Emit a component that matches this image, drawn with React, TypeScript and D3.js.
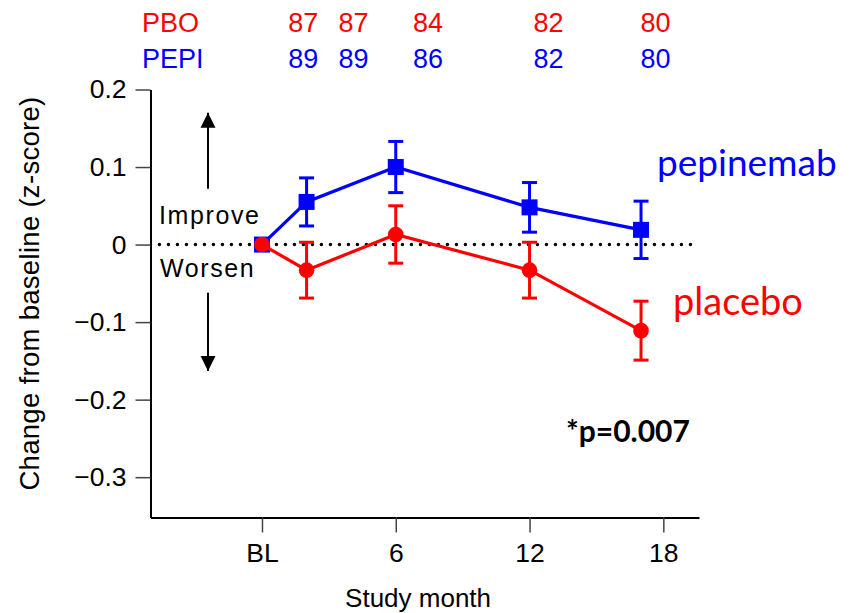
import React, { useEffect, useRef } from "react";
import * as d3 from "d3";

// study visits (months) and change from baseline (z-score), mean +/- SE
const months = [0, 2, 6, 12, 17];
const pepiMean = [0, 0.055, 0.1, 0.048, 0.019];
const pepiErr = [0, 0.031, 0.033, 0.032, 0.037];
const pboMean = [0, -0.033, 0.013, -0.033, -0.111];
const pboErr = [0, 0.036, 0.037, 0.036, 0.038];

// n per arm shown above the plot
const pboCounts = [87, 87, 84, 82, 80];
const pepiCounts = [89, 89, 86, 82, 80];

const xTickValues = [0, 6, 12, 18];
const xTickLabels = ["BL", "6", "12", "18"];
const yTickValues = [0.2, 0.1, 0, -0.1, -0.2, -0.3];

const W = 856;
const H = 613;
const RED = "#ff0000";
const BLUE = "#0000ff";
const HELV = "'Liberation Sans', Arial, Helvetica, sans-serif";
const CAL = "Lato, 'Open Sans', sans-serif";

// where the n labels sit along the month axis
const countAt = [1.85, 4.1, 7.45, 12.85, 17.65];

const App = () => {
  const ref = useRef(null);

  useEffect(() => {
    const svg = d3.select(ref.current);
    svg.selectAll("*").remove();

    const x = d3.scaleLinear().domain([-5, 19.6]).range([150.5, 699]);
    const y = d3.scaleLinear().domain([-0.352, 0.2]).range([517.5, 89.5]);

    const fmt = (d) => (d === 0 ? "0" : d3.format(".1f")(d).replace("-", "\u2212"));

    // y axis
    const gy = svg
      .append("g")
      .attr("transform", `translate(${x(-5)},0)`)
      .call(
        d3
          .axisLeft(y)
          .tickValues(yTickValues)
          .tickSize(15)
          .tickSizeOuter(0)
          .tickPadding(9)
          .tickFormat(fmt)
      );
    gy.select(".domain").attr("stroke", "#000").attr("stroke-width", 2);
    gy.selectAll(".tick line").attr("stroke", "#444").attr("stroke-width", 1.5);
    gy.selectAll(".tick text")
      .attr("font-family", HELV)
      .attr("font-size", 26.5)
      .attr("fill", "#000");

    // x axis
    const gx = svg
      .append("g")
      .attr("transform", `translate(0,${y(-0.352)})`)
      .call(
        d3
          .axisBottom(x)
          .tickValues(xTickValues)
          .tickSize(15)
          .tickSizeOuter(0)
          .tickPadding(11)
          .tickFormat((d, i) => xTickLabels[i])
      );
    gx.select(".domain").attr("stroke", "#000").attr("stroke-width", 2);
    gx.selectAll(".tick line").attr("stroke", "#444").attr("stroke-width", 1.5);
    gx.selectAll(".tick text")
      .attr("font-family", HELV)
      .attr("font-size", 26.5)
      .attr("fill", "#000");

    // axis titles
    svg
      .append("text")
      .attr("transform", `translate(39,${(y(0.2) + y(-0.352)) / 2 - 10}) rotate(-90)`)
      .attr("text-anchor", "middle")
      .attr("font-family", HELV)
      .attr("font-size", 27.5)
      .attr("letter-spacing", 0.3)
      .text("Change from baseline (z-score)");

    svg
      .append("text")
      .attr("x", x(7))
      .attr("y", 607)
      .attr("text-anchor", "middle")
      .attr("font-family", HELV)
      .attr("font-size", 26)
      .text("Study month");

    // zero reference
    svg
      .append("line")
      .attr("x1", x(-4.6))
      .attr("x2", x(19.4))
      .attr("y1", y(0))
      .attr("y2", y(0))
      .attr("stroke", "#000")
      .attr("stroke-width", 3.5)
      .attr("stroke-linecap", "round")
      .attr("stroke-dasharray", "0 9");

    // improve / worsen annotation
    const ax = x(-2.42);
    const defs = svg.append("defs");
    defs
      .append("marker")
      .attr("id", "head")
      .attr("viewBox", "0 0 10 10")
      .attr("refX", 10)
      .attr("refY", 5)
      .attr("markerWidth", 15)
      .attr("markerHeight", 16)
      .attr("markerUnits", "userSpaceOnUse")
      .attr("orient", "auto")
      .append("path")
      .attr("d", "M0,0 L10,5 L0,10 Z")
      .attr("fill", "#000");

    svg
      .append("line")
      .attr("x1", ax)
      .attr("x2", ax)
      .attr("y1", y(0.072))
      .attr("y2", y(0.17))
      .attr("stroke", "#000")
      .attr("stroke-width", 2)
      .attr("marker-end", "url(#head)");
    svg
      .append("line")
      .attr("x1", ax)
      .attr("x2", ax)
      .attr("y1", y(-0.062))
      .attr("y2", y(-0.163))
      .attr("stroke", "#000")
      .attr("stroke-width", 2)
      .attr("marker-end", "url(#head)");

    svg
      .append("text")
      .attr("x", 159)
      .attr("y", y(0) - 21)
      .attr("font-family", HELV)
      .attr("font-size", 25)
      .attr("letter-spacing", 1.6)
      .text("Improve");
    svg
      .append("text")
      .attr("x", 160)
      .attr("y", y(0) + 32)
      .attr("font-family", HELV)
      .attr("font-size", 25)
      .attr("letter-spacing", 1.6)
      .text("Worsen");

    // series
    const drawSeries = (mean, err, color, marker) => {
      const pts = months.map((m, i) => ({ m, v: mean[i], e: err[i] }));
      const g = svg.append("g");
      g.append("path")
        .datum(pts)
        .attr("fill", "none")
        .attr("stroke", color)
        .attr("stroke-width", 3.2)
        .attr(
          "d",
          d3
            .line()
            .x((d) => x(d.m))
            .y((d) => y(d.v))
        );
      const eb = g
        .selectAll("g.err")
        .data(pts.filter((d) => d.e > 0))
        .enter()
        .append("g")
        .attr("class", "err")
        .attr("stroke", color)
        .attr("stroke-width", 3);
      eb.append("line")
        .attr("x1", (d) => x(d.m))
        .attr("x2", (d) => x(d.m))
        .attr("y1", (d) => y(d.v + d.e))
        .attr("y2", (d) => y(d.v - d.e));
      eb.append("line")
        .attr("x1", (d) => x(d.m) - 7.5)
        .attr("x2", (d) => x(d.m) + 7.5)
        .attr("y1", (d) => y(d.v + d.e))
        .attr("y2", (d) => y(d.v + d.e));
      eb.append("line")
        .attr("x1", (d) => x(d.m) - 7.5)
        .attr("x2", (d) => x(d.m) + 7.5)
        .attr("y1", (d) => y(d.v - d.e))
        .attr("y2", (d) => y(d.v - d.e));
      if (marker === "square") {
        g.selectAll("rect")
          .data(pts)
          .enter()
          .append("rect")
          .attr("x", (d) => x(d.m) - 8)
          .attr("y", (d) => y(d.v) - 8)
          .attr("width", 16)
          .attr("height", 16)
          .attr("fill", color);
      } else {
        g.selectAll("circle")
          .data(pts)
          .enter()
          .append("circle")
          .attr("cx", (d) => x(d.m))
          .attr("cy", (d) => y(d.v))
          .attr("r", 7.8)
          .attr("fill", color);
      }
    };
    drawSeries(pepiMean, pepiErr, BLUE, "square");
    drawSeries(pboMean, pboErr, RED, "circle");

    // n at risk rows
    const rows = [
      { name: "PBO", counts: pboCounts, color: RED, base: 32 },
      { name: "PEPI", counts: pepiCounts, color: BLUE, base: 68 },
    ];
    rows.forEach((r) => {
      svg
        .append("text")
        .attr("x", 142)
        .attr("y", r.base)
        .attr("font-family", HELV)
        .attr("font-size", 27)
        .attr("fill", r.color)
        .text(r.name);
      svg
        .selectAll(null)
        .data(r.counts)
        .enter()
        .append("text")
        .attr("x", (d, i) => x(countAt[i]))
        .attr("y", r.base)
        .attr("text-anchor", "middle")
        .attr("font-family", HELV)
        .attr("font-size", 27)
        .attr("fill", r.color)
        .text((d) => d);
    });

    // series labels
    svg
      .append("text")
      .attr("x", 657)
      .attr("y", 176)
      .attr("font-family", CAL)
      .attr("font-size", 37)
      .attr("fill", BLUE)
      .text("pepinemab");
    svg
      .append("text")
      .attr("x", 673)
      .attr("y", 315)
      .attr("font-family", CAL)
      .attr("font-size", 38)
      .attr("fill", RED)
      .text("placebo");

    svg
      .append("text")
      .attr("x", 566)
      .attr("y", 442)
      .attr("font-family", CAL)
      .attr("font-weight", "bold")
      .attr("font-size", 30)
      .attr("fill", "#000")
      .text("*p=0.007");
  }, []);

  return (
    <svg
      ref={ref}
      width={W}
      height={H}
      style={{ position: "fixed", left: 0, top: 0, background: "#fff" }}
    />
  );
};

export default App;
